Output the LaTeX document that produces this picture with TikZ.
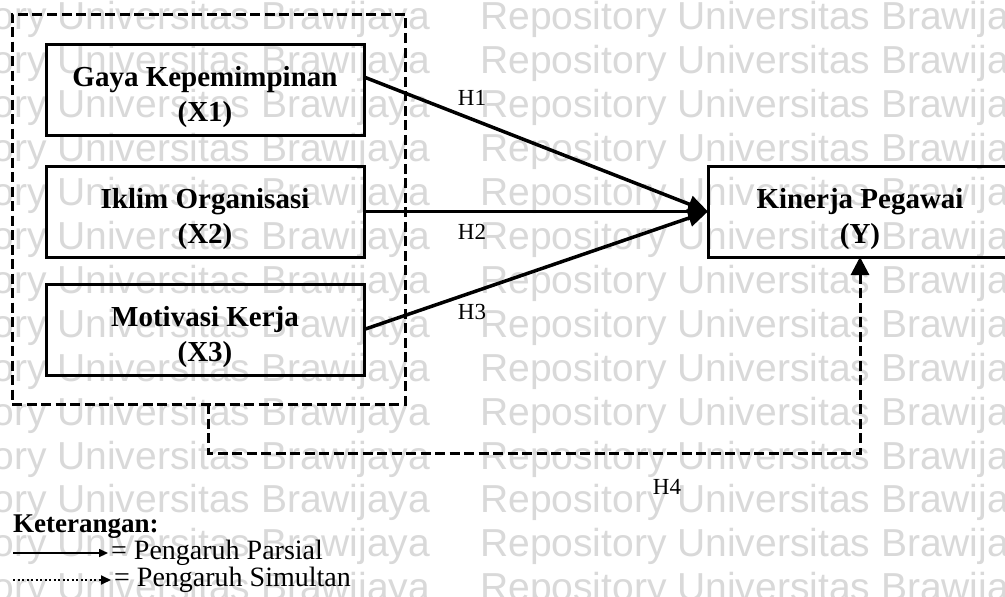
\documentclass[tikz,border=0pt]{standalone}
\usepackage{fontspec}
\setmainfont{Liberation Serif}
\newfontfamily\wmfont{Liberation Sans}
\usetikzlibrary{arrows.meta,calc}
% strut that lowers the two-line box captions a little
\newcommand{\capstrut}{\rule{0pt}{36pt}}
\begin{document}
\begin{tikzpicture}[x=1pt,y=-1pt,
  varbox/.style={draw, line width=3pt, minimum width=318pt, minimum height=91pt,
    inner sep=0pt, outer sep=0pt, align=center,
    font=\fontsize{29}{35}\selectfont\bfseries},
  groupbox/.style={draw, line width=3pt, dash pattern=on 10pt off 4.5pt,
    inner sep=0pt, outer sep=0pt},
  linkarrow/.style={line width=3.5pt, -{Triangle[length=20pt,width=17pt]}},
  simarrow/.style={line width=3pt, dash pattern=on 10pt off 4.5pt,
    -{Triangle[length=18pt,width=18pt]}},
  hlabel/.style={font=\fontsize{23}{23}\selectfont, inner sep=0pt},
  legtext/.style={font=\fontsize{28}{28}\selectfont, anchor=west, inner sep=0pt},
  wm/.style={font=\wmfont\fontsize{39}{39}\selectfont, text=black!15,
    anchor=base west, inner sep=0pt}
]
\fill[white] (0,0) rectangle (1005,597);
\useasboundingbox (0,0) rectangle (1005,597);

% background repository stamp, repeated in rows
\foreach \k in {0,...,13}{
  \foreach \x in {-140,480}{
    \node[wm] (wm-\k-\x) at (\x,{30+43.9*\k}) {Repository Universitas Brawijaya};
  }
}

% independent variables and their grouping frame
\node[groupbox, minimum width=393pt, minimum height=390pt] (grp) at (208.5,209) {};
\node[varbox] (X1) at (205,89.5)  {\capstrut Gaya Kepemimpinan\\(X1)};
\node[varbox] (X2) at (205,211.5) {\capstrut Iklim Organisasi\\(X2)};
\node[varbox] (X3) at (205,329.5) {\capstrut Motivasi Kerja\\(X3)};

% dependent variable
\node[varbox, minimum width=304pt] (Y) at (860,211.5) {\capstrut Kinerja Pegawai\\(Y)};

% partial effects
\draw[linkarrow] ($(X1.east)+(0,-12.5)$) -- (Y.west);
\draw[linkarrow] (X2.east) -- (Y.west);
\draw[linkarrow] (X3.east) -- (Y.west);

% simultaneous effect
\draw[simarrow] (grp.south) -- ++(0,49) -| (Y.south);

\node[hlabel] (h1) at (472,98)  {H1};
\node[hlabel] (h2) at (472,232) {H2};
\node[hlabel] (h3) at (472,312) {H3};
\node[hlabel] (h4) at (667,487) {H4};

% legend
\node[legtext, font=\fontsize{27}{27}\selectfont\bfseries] (ket) at (13,527) {Keterangan:};
\coordinate (p0) at (13,553);
\node[legtext] (ptext) at (111,553) {= Pengaruh Parsial};
\draw[line width=1.6pt, shorten >=3pt, -{Triangle[length=9pt,width=8pt]}] (p0) -- (ptext.west);
\coordinate (s0) at (13,580);
\node[legtext] (stext) at (114,580) {= Pengaruh Simultan};
\draw[line width=1.8pt, dash pattern=on 2pt off 2.5pt, shorten >=3pt,
  -{Triangle[length=10pt,width=9pt]}] (s0) -- (stext.west);
\end{tikzpicture}
\end{document}
